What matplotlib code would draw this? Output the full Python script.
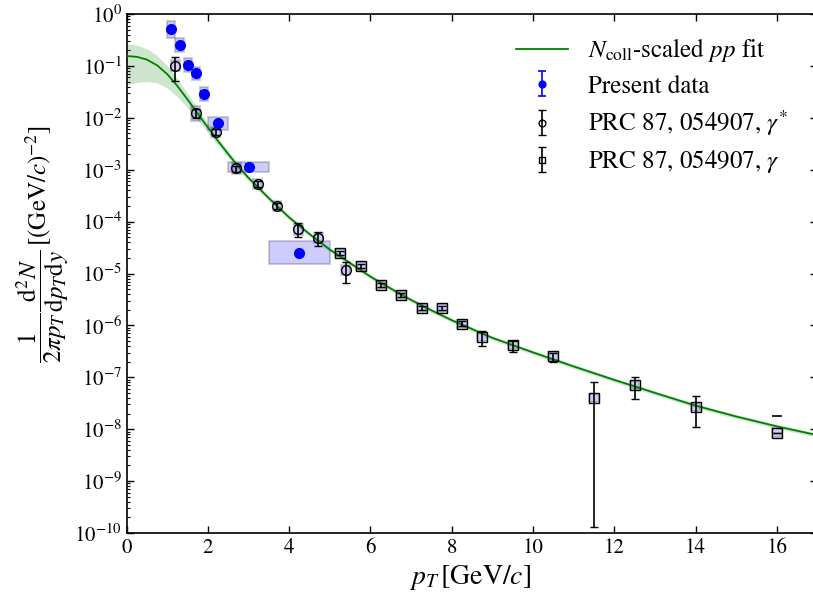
import numpy as np
import matplotlib
matplotlib.use("Agg")
import matplotlib.pyplot as plt
from matplotlib.ticker import LogLocator, NullFormatter, MultipleLocator

plt.rcParams['font.family'] = ['STIXGeneral', 'DejaVu Sans']
plt.rcParams['mathtext.fontset'] = 'stix'

# ---------------- data ----------------
# Fit curve (N_coll-scaled pp fit)
fit_x = [0.0, 0.25, 0.5, 0.75, 1.0, 1.25, 1.5, 1.75, 2.0, 2.25, 2.5, 2.75, 3.0, 3.5, 4.0, 4.5,
         5.0, 5.5, 6.0, 6.5, 7.0, 7.5, 8.0, 9.0, 10.0, 11.0, 12.0, 13.0, 14.0, 15.0, 16.0, 17.0]
fit_log = [-0.81, -0.825, -0.88, -0.99, -1.16, -1.39, -1.65, -1.92, -2.19, -2.45, -2.70, -2.94,
           -3.16, -3.55, -3.92, -4.24, -4.54, -4.80, -5.06, -5.29, -5.51, -5.71, -5.90, -6.24,
           -6.52, -6.79, -7.05, -7.30, -7.545, -7.755, -7.945, -8.115]
fit_rel = [0.72, 0.68, 0.62, 0.54, 0.46, 0.38, 0.31, 0.25, 0.20, 0.17, 0.15, 0.13, 0.12, 0.11,
           0.10, 0.095, 0.09, 0.09, 0.09, 0.09, 0.09, 0.09, 0.09, 0.09, 0.09, 0.09, 0.09, 0.09,
           0.09, 0.09, 0.09, 0.09]

# Present data
pres_x = [1.1, 1.3, 1.5, 1.7, 1.9, 2.25, 3.0, 4.25]
pres_y = [0.507, 0.253, 0.104, 0.072, 0.0288, 0.00783, 0.00114, 2.5e-5]
pres_stat = [0.05, 0.025, 0.011, 0.008, 0.0035, 0.0009, 0.00014, 1.5e-6]
pres_xhw = [0.1, 0.1, 0.1, 0.1, 0.1, 0.25, 0.5, 0.75]
pres_sys_dex = [0.16, 0.14, 0.13, 0.13, 0.13, 0.13, 0.10, 0.22]

# PRC 87, 054907, gamma* (open circles)
gs_x = [1.19, 1.70, 2.19, 2.70, 3.22, 3.70, 4.22, 4.72, 5.39]
gs_y = [0.101, 0.0122, 0.00526, 0.00106, 5.3e-4, 2.0e-4, 7.1e-5, 4.8e-5, 1.17e-5]
gs_err_lo = [0.049, 0.0023, 0.0007, 0.00014, 7e-5, 2.7e-5, 2.1e-5, 1.4e-5, 5.2e-6]
gs_err_hi = [0.049, 0.0023, 0.0007, 0.00014, 7e-5, 2.7e-5, 2.5e-5, 1.5e-5, 4.7e-6]
gs_sys_dex = [0.11, 0.15, 0.10, 0.10, 0.10, 0.10, 0.10, 0.10, 0.10]

# PRC 87, 054907, gamma (open squares)
g_x = [5.25, 5.76, 6.26, 6.76, 7.26, 7.76, 8.25, 8.75, 9.50, 10.50, 11.50, 12.50, 14.0, 16.0]
g_y = [2.52e-5, 1.41e-5, 6.0e-6, 3.85e-6, 2.16e-6, 2.19e-6, 1.08e-6, 6.05e-7, 4.14e-7,
       2.57e-7, 4.05e-8, 7.1e-8, 2.64e-8, 8.6e-9]
g_err_lo = [2.5e-6, 1.4e-6, 6e-7, 4e-7, 2.2e-7, 2.2e-7, 1.1e-7, 2.05e-7, 1.1e-7,
            5.7e-8, 4.037e-8, 3.2e-8, 1.55e-8, 0.0]
g_err_hi = [2.5e-6, 1.4e-6, 6e-7, 4e-7, 2.2e-7, 2.2e-7, 1.1e-7, 1.85e-7, 0.9e-7,
            3.8e-8, 4.15e-8, 3.2e-8, 1.76e-8, 0.0]
g_sys_dex = [0.08] * 14
g_cap_x = [16.0]
g_cap_y = [1.77e-8]

# ---------------- figure ----------------
fig = plt.figure(figsize=(8.13, 6.02), dpi=100)
ax = fig.add_axes([126.7 / 813, (602 - 533) / 602, (817.4 - 126.7) / 813, (533 - 14) / 602])
ax.set_yscale('log')

fx = np.array(fit_x)
fy = 10 ** np.array(fit_log)
fr = np.array(fit_rel)
ax.fill_between(fx, fy * (1 - fr), fy * (1 + fr), color=(0, 0.5, 0), alpha=0.2, lw=0, zorder=1)

box_face = (0.0, 0.0, 1.0, 0.2)
box_edge = (0.0, 0.0, 0.0, 0.18)


def boxes(xs, ys, xhw, dex):
    xs = np.asarray(xs, float)
    ys = np.asarray(ys, float)
    xhw = np.broadcast_to(np.asarray(xhw, float), xs.shape)
    dex = np.asarray(dex, float)
    lo = ys * 10 ** (-dex)
    hi = ys * 10 ** dex
    ax.bar(xs, hi - lo, bottom=lo, width=2 * xhw, align='center',
           facecolor=box_face, edgecolor=box_edge, linewidth=1.5, zorder=2)


boxes(pres_x, pres_y, pres_xhw, pres_sys_dex)
boxes(gs_x, gs_y, 0.11, gs_sys_dex)
boxes(g_x, g_y, 0.12, g_sys_dex)

ax.plot(fx, fy, color=(0, 0.5, 0), lw=1.3, zorder=3, label=r'$N_{\mathrm{coll}}$-scaled $pp$ fit')

ax.errorbar(pres_x, pres_y, yerr=pres_stat, fmt='o', color='b', mfc='b', mec='b', ms=7,
            ecolor='b', elinewidth=1.2, capsize=3, capthick=1.2, zorder=5, label='Present data')
ax.errorbar(gs_x, gs_y, yerr=[gs_err_lo, gs_err_hi], fmt='o', color='k', mfc='none', mec='k',
            ms=7, mew=1, elinewidth=1.2, capsize=3, capthick=1.2, zorder=4,
            label=r'PRC 87, 054907, $\gamma^{*}$')
ax.errorbar(g_x, g_y, yerr=[g_err_lo, g_err_hi], fmt='s', color='k', mfc='none', mec='k',
            ms=6.5, mew=1, elinewidth=1.2, capsize=3, capthick=1.2, zorder=4,
            label=r'PRC 87, 054907, $\gamma$')
ax.plot(g_cap_x, g_cap_y, ls='none', marker='_', ms=7, mew=1.2, color='k', zorder=4)

ax.set_xlim(0, 17)
ax.set_ylim(1e-10, 1)
ax.xaxis.set_major_locator(MultipleLocator(2))
ax.yaxis.set_major_locator(LogLocator(base=10, numticks=20))
ax.yaxis.set_minor_locator(LogLocator(base=10, subs=np.arange(2, 10), numticks=200))
ax.yaxis.set_minor_formatter(NullFormatter())
ax.tick_params(which='both', direction='in', top=True, right=True, labelsize=15)
ax.tick_params(which='major', length=5, width=1)
ax.tick_params(which='minor', length=2.5, width=0.8)
for s in ax.spines.values():
    s.set_linewidth(1.2)

fig.text(470 / 813, (602 - 577) / 602, r'$p_T\,[\mathrm{GeV}/c]$', ha='center', va='center',
         fontsize=20)
fig.text(43 / 813, (602 - 244) / 602,
         r'$\dfrac{1}{2\pi p_T}\dfrac{\mathrm{d}^2N}{\mathrm{d}p_T\mathrm{d}y}\,[(\mathrm{GeV}/c)^{-2}]$',
         rotation=90, ha='center', va='center', fontsize=18)

ax.legend(loc='upper right', bbox_to_anchor=(0.99, 1.0), frameon=False, fontsize=18,
          numpoints=1, handlelength=2.1, handletextpad=0.8, labelspacing=0.4, markerscale=0.7)

fig.savefig('out.png', dpi=100)
